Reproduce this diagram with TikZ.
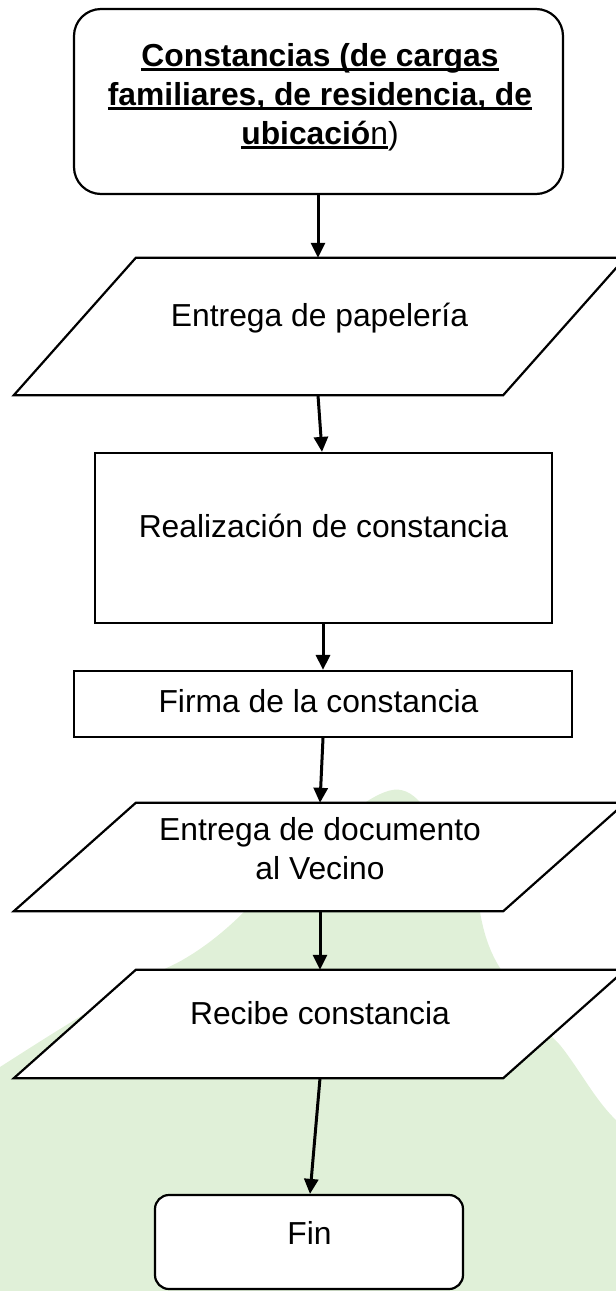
\documentclass[tikz,border=0pt]{standalone}
\usepackage{fontspec}
\setmainfont{Liberation Sans}
\usetikzlibrary{arrows.meta,calc}
\definecolor{leafgreen}{RGB}{224,240,216}
\newsavebox\ulbox
\newcommand\myul[1]{\sbox\ulbox{#1}\rlap{\rule[-4.5pt]{\wd\ulbox}{2.4pt}}\usebox\ulbox}
\begin{document}
\begin{tikzpicture}[x=1pt,y=-1pt,
  shp/.style={draw=black, line width=2.2pt, fill=white, inner sep=0pt},
  ghost/.style={inner sep=0pt, draw=none},
  txt/.style={inner sep=0pt, font=\fontsize{31.8}{39}\selectfont, align=center},
  arr/.style={line width=3pt, -{Triangle[length=15pt,width=14pt]}}]
\useasboundingbox (0,0) rectangle (616,1291);
\begin{scope}
\clip (0,0) rectangle (616,1291);
% background leaf shape
\fill[leafgreen] (0,1291) -- (0,1067)
  .. controls (50,1035) and (120,990) .. (177,963)
  .. controls (205,948) and (228,928) .. (245,911)
  .. controls (300,860) and (350,805) .. (385,792)
  .. controls (398,787) and (408,790) .. (418,800)
  .. controls (455,840) and (472,880) .. (480,912)
  .. controls (484,935) and (490,952) .. (500,968)
  .. controls (520,1000) and (540,1025) .. (560,1045)
  .. controls (580,1070) and (595,1100) .. (616,1120)
  -- (616,1291) -- cycle;

% shapes
\node[shp, rounded corners=27pt, minimum width=489pt, minimum height=185pt] (start) at (318.5,101.5) {};
\node[ghost, minimum width=611pt, minimum height=137pt] (p1) at (319.5,326.5) {};
\draw[shp] ([xshift=122pt]p1.north west) -- (p1.north east) -- ([xshift=-122pt]p1.south east) -- (p1.south west) -- cycle;
\node[shp, minimum width=457pt, minimum height=170pt] (rect) at (323.5,538) {};
\node[shp, minimum width=498pt, minimum height=66pt] (firma) at (323,704) {};
\node[ghost, minimum width=611pt, minimum height=108pt] (p2) at (319.5,857) {};
\draw[shp] ([xshift=122pt]p2.north west) -- (p2.north east) -- ([xshift=-122pt]p2.south east) -- (p2.south west) -- cycle;
\node[ghost, minimum width=611pt, minimum height=108pt] (p3) at (319.5,1024) {};
\draw[shp] ([xshift=122pt]p3.north west) -- (p3.north east) -- ([xshift=-122pt]p3.south east) -- (p3.south west) -- cycle;
\node[shp, rounded corners=14pt, minimum width=308pt, minimum height=94pt] (fin) at (309,1242) {};

% texts
\node[txt] (t0) at (320,97) {\myul{\textbf{Constancias (de cargas}}\\\myul{\textbf{familiares, de residencia, de}}\\\myul{\textbf{ubicació}n})};
\node[txt, anchor=base] (t1) at (319.5,326) {Entrega de papelería};
\node[txt, anchor=base] (t2) at (323.5,537.7) {Realización de constancia};
\node[txt, anchor=base] (t3) at (318.5,712.7) {Firma de la constancia};
\node[txt] (t4) at (320,849) {Entrega de documento\\al Vecino};
\node[txt, anchor=base] (t5) at (320,1024.3) {Recibe constancia};
\node[txt, anchor=base] (t6) at (309.5,1244) {Fin};

% connectors
\draw[arr] ([xshift=-0.5pt]start.south) -- ([xshift=-1.5pt]p1.north);
\draw[arr] ([xshift=-1.5pt]p1.south) -- ([xshift=-1.5pt]rect.north);
\draw[arr] ([xshift=-0.5pt]rect.south) -- (firma.north);
\draw[arr] (firma.south) -- ([xshift=0.5pt]p2.north);
\draw[arr] ([xshift=0.5pt]p2.south) -- ([xshift=0.5pt]p3.north);
\draw[arr] ([xshift=0.5pt]p3.south) -- ([xshift=1pt]fin.north);
\end{scope}
\end{tikzpicture}
\end{document}
